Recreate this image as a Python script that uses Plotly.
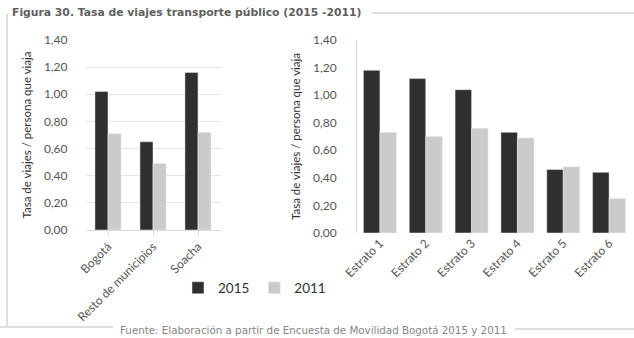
import plotly.graph_objects as go

W, H = 634, 338

# ---- data ----
zonas = ["Bogotá", "Resto de municipios", "Soacha"]
zonas_2015 = [1.02, 0.65, 1.16]
zonas_2011 = [0.71, 0.49, 0.72]

estratos = ["Estrato 1", "Estrato 2", "Estrato 3", "Estrato 4", "Estrato 5", "Estrato 6"]
estratos_2015 = [1.18, 1.12, 1.04, 0.73, 0.46, 0.44]
estratos_2011 = [0.73, 0.70, 0.76, 0.69, 0.48, 0.25]

y_ticks = [0, 0.2, 0.4, 0.6, 0.8, 1.0, 1.2, 1.4]
y_title = "Tasa de viajes / persona que viaja"
title = "Figura 30. Tasa de viajes transporte público (2015 -2011)"
source = "Fuente: Elaboración a partir de Encuesta de Movilidad Bogotá 2015 y 2011"

C2015 = "#2f2f2f"
C2011 = "#cbcbcb"
FONT = "Lato"

def px(x):
    return x / W

def py(y):
    return (H - y) / H

fig = go.Figure()
wl, wr = 0.29, 0.36
fig.add_trace(go.Bar(x=zonas, y=zonas_2015, name="2015", marker_color=C2015,
                     width=wl, offset=-wl, xaxis="x", yaxis="y", legendgroup="a"))
fig.add_trace(go.Bar(x=zonas, y=zonas_2011, name="2011", marker_color=C2011,
                     width=wl, offset=0, xaxis="x", yaxis="y", legendgroup="b"))
fig.add_trace(go.Bar(x=estratos, y=estratos_2015, name="2015", marker_color=C2015,
                     width=wr, offset=-wr, xaxis="x2", yaxis="y2", legendgroup="a",
                     showlegend=False))
fig.add_trace(go.Bar(x=estratos, y=estratos_2011, name="2011", marker_color=C2011,
                     width=wr, offset=0, xaxis="x2", yaxis="y2", legendgroup="b",
                     showlegend=False))

tickfont = dict(family=FONT, size=12, color="#555555")
yax_common = dict(range=[0, 1.4], tickvals=y_ticks, tickformat=".2f",
                  tickfont=tickfont, ticklabelstandoff=17, automargin=False,
                  title=dict(text=y_title, font=dict(family=FONT, size=11.5, color="#333333"),
                             standoff=9),
                  zeroline=False)

fig.update_layout(
    width=W, height=H,
    margin=dict(l=0, r=0, t=0, b=0, autoexpand=False),
    paper_bgcolor="white", plot_bgcolor="white",
    separators=",.",
    barmode="overlay",
    showlegend=True,
    legend=dict(orientation="h", x=px(178), y=py(288), xanchor="left", yanchor="middle",
                font=dict(family=FONT, size=13.5, color="#333333"),
                itemwidth=30, traceorder="normal", bgcolor="rgba(0,0,0,0)"),
    xaxis=dict(domain=[px(85.5), px(220.5)], anchor="y", tickangle=-45,
               range=[-0.5, len(zonas) - 0.5], automargin=False,
               tickfont=tickfont, showline=True, linecolor="#d9d9d9",
               ticks="outside", ticklen=4, tickcolor="#d9d9d9",
               showgrid=False),
    yaxis=dict(domain=[py(230), py(40)], anchor="x", showgrid=True,
               gridcolor="#e6e6e6", showline=False, **yax_common),
    xaxis2=dict(domain=[px(357), px(632)], anchor="y2", tickangle=-45,
                range=[-0.5, len(estratos) - 0.5], automargin=False,
                tickfont=tickfont, showline=False, showgrid=False),
    yaxis2=dict(domain=[py(233), py(40)], anchor="x2", showgrid=False,
                showline=True, linecolor="#d9d9d9", **yax_common),
)

fig.add_annotation(text="<b>" + title + "</b>", x=px(10), y=py(13), xref="paper", yref="paper",
                   xanchor="left", yanchor="middle", showarrow=False,
                   font=dict(family="DejaVu Sans", size=10.8, color="#606060"))
fig.add_annotation(text=source, x=px(313), y=py(330), xref="paper", yref="paper",
                   xanchor="center", yanchor="middle", showarrow=False,
                   font=dict(family="DejaVu Sans", size=10.3, color="#858585"))

line = dict(color="#bdbdbd", width=1)
fig.add_shape(type="line", xref="paper", yref="paper", x0=px(7), x1=px(7), y0=py(14), y1=py(326), line=line)
fig.add_shape(type="line", xref="paper", yref="paper", x0=px(372), x1=px(634), y0=py(13), y1=py(13), line=line)
fig.add_shape(type="line", xref="paper", yref="paper", x0=px(0), x1=px(113), y0=py(327), y1=py(327), line=line)
fig.add_shape(type="line", xref="paper", yref="paper", x0=px(515), x1=px(634), y0=py(329), y1=py(329), line=line)

fig.write_html("out.html")
